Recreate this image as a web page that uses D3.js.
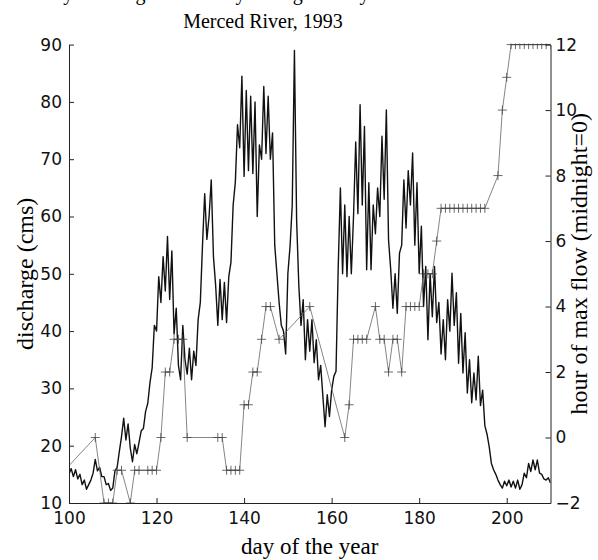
<!DOCTYPE html>
<html>
<head>
<meta charset="utf-8">
<script src="https://cdn.jsdelivr.net/npm/d3@7"></script>
<style>
  body { margin: 0; background: #fff; }
</style>
</head>
<body>
<svg id="chart" width="598" height="560"></svg>
<script>
// discharge (cms), read every half day starting at day 100.0
const dischargeStartDay = 100;
const discharge = [
  15.0, 16.0,  14.6, 15.8,  14.2, 15.0,  13.2, 14.0,  12.4, 13.2,   // 100-104
  14.0, 15.2,  17.6, 15.6,  16.2, 14.6,  14.6, 13.2,  13.4, 12.2,   // 105-109
  12.6, 15.6,  16.2, 19.0,  21.6, 24.8,  21.0, 23.8,  19.6, 17.2,   // 110-114
  20.2, 18.6,  20.6, 22.6,  23.0, 26.0,  27.4, 31.0,  33.6, 41.0,   // 115-119
  40.0, 49.5,  45.0, 53.0,  47.0, 56.5,  45.5, 54.0,  39.5, 44.0,   // 120-124
  34.0, 31.5,  41.0, 35.0,  32.5, 37.0,  31.5, 36.5,  34.0, 42.0,   // 125-129
  45.0, 55.0,  64.0, 56.0,  60.0, 66.4,  53.0, 48.0,  41.0, 49.0,   // 130-134
  42.0, 48.5,  41.5, 49.5,  52.0, 62.0,  66.0, 76.0,  72.0, 84.5,   // 135-139
  67.0, 82.0,  68.0, 81.0,  67.5, 80.0,  60.0, 72.5,  70.0, 82.7,   // 140-144
  71.0, 81.0,  70.0, 74.6,  55.0, 50.0,  45.0, 41.0,  40.0, 36.0,   // 145-149
  50.0, 54.8,  62.0, 89.0,  59.4, 48.0,  41.0, 45.5,  35.0, 42.0,   // 150-154
  36.5, 42.0,  34.5, 38.5,  31.5, 34.0,  28.6, 23.3,  28.9, 25.1,   // 155-159
  29.7, 32.1,  33.0, 51.0,  65.0, 50.0,  62.0, 49.5,  60.0, 50.0,   // 160-164
  60.0, 73.0,  60.5, 79.5,  62.0, 75.7,  50.7, 65.9,  50.7, 62.0,   // 165-169
  57.0, 65.0,  60.0, 74.0,  63.0, 78.6,  55.9, 50.7,  44.0, 50.0,   // 170-174
  43.1, 53.6,  55.0, 66.4,  58.0, 68.0,  62.0, 71.1,  55.0, 65.9,   // 175-179
  50.1, 58.3,  44.3, 51.3,  38.5, 50.0,  42.5, 51.3,  41.5, 45.0,   // 180-184
  36.0, 42.0,  35.0, 45.5,  40.0, 50.1,  41.0, 46.7,  34.4, 43.1,   // 185-189
  32.7, 39.7,  29.2, 35.0,  27.5, 32.7,  28.0, 35.6,  27.0, 29.7,   // 190-194
  23.5, 22.0,  19.8, 16.9,  15.8, 15.0,  14.0, 13.2,  12.6, 13.8,   // 195-199
  13.0, 14.0,  12.8, 13.8,  12.6, 14.0,  12.4, 13.2,  15.2, 14.4,   // 200-204
  16.9, 15.5,  17.5, 15.8,  17.5, 15.2,  15.0, 14.2,  14.0, 14.4,   // 205-209
  13.5                                                              // 210
];

// hour of maximum flow (midnight = 0) for each day
const hourDays = [
  99, 106, 108, 109, 110, 111, 112, 114, 115, 116, 118, 119, 120,
  121, 122, 123, 124, 125, 126, 127, 134, 135, 136, 137, 138, 139,
  140, 141, 142, 143, 144, 145, 146, 148, 155, 163, 164, 165, 166,
  167, 168, 170, 171, 172, 173, 174, 175, 176, 177, 178, 179, 180,
  181, 182, 183, 184, 185, 186, 187, 188, 189, 190, 191, 192, 193,
  194, 195, 198, 199, 200, 201, 202, 203, 204, 205, 206, 207, 208,
  209, 210
];
const hourValues = [
  -1, 0, -2, -2, -2, -1, -1, -2, -1, -1, -1, -1, -1,
  0, 2, 2, 3, 3, 3, 0, 0, 0, -1, -1, -1, -1,
  1, 1, 2, 2, 3, 4, 4, 3, 4, 0, 1, 3, 3,
  3, 3, 4, 3, 3, 2, 3, 3, 2, 4, 4, 4, 4,
  5, 5, 5, 6, 7, 7, 7, 7, 7, 7, 7, 7, 7,
  7, 7, 8, 10, 11, 12, 12, 12, 12, 12, 12, 12, 12,
  12, 12
];

const dayTicks = [100, 120, 140, 160, 180, 200];
const dischargeTicks = [10, 20, 30, 40, 50, 60, 70, 80, 90];
const hourTicks = [-2, 0, 2, 4, 6, 8, 10, 12];

const svg = d3.select('#chart');
const margin = { top: 44.6, right: 47.5, bottom: 57, left: 69 };
const W = 598, H = 560;
const width = W - margin.left - margin.right;
const height = H - margin.top - margin.bottom;

const serif = '"Liberation Serif", "Times New Roman", serif';
const sans = '"DejaVu Sans", sans-serif';

const x = d3.scaleLinear().domain([100, 210]).range([0, width]);
const y = d3.scaleLinear().domain([10, 90]).range([height, 0]);
const yR = d3.scaleLinear().domain([-2, 12]).range([height, 0]);

const g = svg.append('g').attr('transform', `translate(${margin.left},${margin.top})`);

svg.append('defs').append('clipPath').attr('id', 'plot-clip')
  .append('rect').attr('x', 0).attr('y', -1).attr('width', width).attr('height', height + 1);

// discharge line
const flowPoints = discharge.map((v, i) => [dischargeStartDay + i / 2, v]);
g.append('path')
  .datum(flowPoints)
  .attr('clip-path', 'url(#plot-clip)')
  .attr('fill', 'none')
  .attr('stroke', '#111')
  .attr('stroke-width', 1.4)
  .attr('stroke-linejoin', 'round')
  .attr('d', d3.line().x(d => x(d[0])).y(d => y(d[1])));

// hour of max flow
const hourData = hourDays.map((d, i) => [d, hourValues[i]]);
const hourG = g.append('g').attr('clip-path', 'url(#plot-clip)');
hourG.append('path')
  .datum(hourData)
  .attr('fill', 'none')
  .attr('stroke', '#666')
  .attr('stroke-width', 0.8)
  .attr('d', d3.line().x(d => x(d[0])).y(d => yR(d[1])));
hourG.selectAll('path.plus')
  .data(hourData)
  .enter().append('path')
  .attr('class', 'plus')
  .attr('transform', d => `translate(${x(d[0])},${yR(d[1])})`)
  .attr('d', 'M-4.5,0H4.5M0,-4.5V4.5')
  .attr('fill', 'none')
  .attr('stroke', '#444')
  .attr('stroke-width', 0.8);

// axes
function styleAxis(sel) {
  sel.attr('font-family', sans).attr('font-size', 17);
  sel.selectAll('path.domain').attr('stroke', '#222').attr('stroke-width', 1);
  sel.selectAll('.tick line').attr('stroke', '#222');
  sel.selectAll('.tick text').attr('fill', '#111');
}

g.append('g')
  .attr('transform', `translate(0,${height})`)
  .call(d3.axisBottom(x).tickValues(dayTicks).tickSizeInner(-5).tickSizeOuter(0).tickPadding(9))
  .call(styleAxis);

g.append('g')
  .call(d3.axisLeft(y).tickValues(dischargeTicks).tickSizeInner(-5).tickSizeOuter(0).tickPadding(7))
  .call(styleAxis);

g.append('g')
  .attr('transform', `translate(${width},0)`)
  .call(d3.axisRight(yR).tickValues(hourTicks).tickSizeInner(-5).tickSizeOuter(0).tickPadding(5))
  .call(styleAxis);

// labels
svg.append('text')
  .attr('x', 263).attr('y', 0)
  .attr('text-anchor', 'middle')
  .attr('font-family', serif).attr('font-size', 20)
  .text('Daily discharge and hourly timing of daily maximum flow');

svg.append('text')
  .attr('x', 263).attr('y', 28)
  .attr('text-anchor', 'middle')
  .attr('font-family', serif).attr('font-size', 20)
  .text('Merced River, 1993');

svg.append('text')
  .attr('x', margin.left + width / 2).attr('y', 554)
  .attr('text-anchor', 'middle')
  .attr('font-family', serif).attr('font-size', 23)
  .text('day of the year');

svg.append('text')
  .attr('transform', `translate(33,${margin.top + height / 2}) rotate(-90)`)
  .attr('text-anchor', 'middle')
  .attr('font-family', serif).attr('font-size', 24)
  .text('discharge (cms)');

svg.append('text')
  .attr('transform', `translate(587,${margin.top + height / 2 - 10}) rotate(-90)`)
  .attr('text-anchor', 'middle')
  .attr('font-family', serif).attr('font-size', 24)
  .text('hour of max flow (midnight=0)');
</script>
</body>
</html>
